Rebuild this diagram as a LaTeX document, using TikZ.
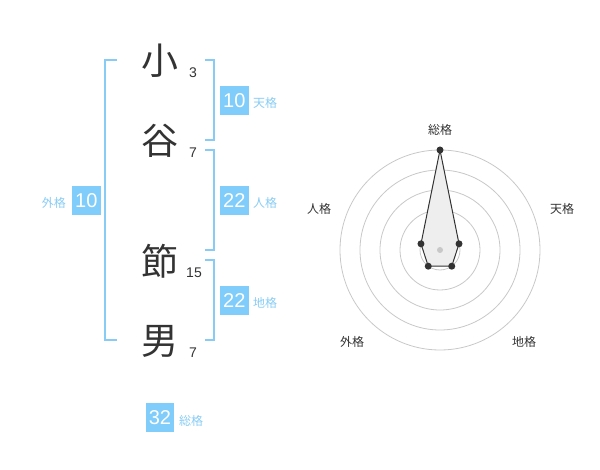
\documentclass[tikz,border=0pt]{standalone}
\usepackage{fontspec}
\usetikzlibrary{calc}
\setmainfont{Liberation Sans}
\newfontfamily\cjk{Noto Sans CJK JP}
\definecolor{bluebox}{HTML}{80CCFA}
\definecolor{bluetxt}{HTML}{88CCF4}
\definecolor{bracketc}{HTML}{88CCF6}
\definecolor{darkt}{HTML}{333333}
\definecolor{ringc}{HTML}{C8C8C8}
\definecolor{polyfill}{HTML}{EEEEEE}
\begin{document}
\begin{tikzpicture}[x=1pt,y=-1pt,
  kanji/.style={font=\cjk\fontsize{37}{37}\selectfont, text=darkt, inner sep=0pt},
  stroke/.style={font=\fontsize{14}{14}\selectfont, text=darkt, inner sep=0pt},
  numbox/.style={fill=bluebox, text=white, font=\fontsize{20}{20}\selectfont, minimum width=28.5pt, minimum height=28.5pt, inner sep=0pt},
  kaku/.style={font=\cjk\fontsize{12}{12}\selectfont, text=bluetxt, inner sep=0pt},
  axislbl/.style={font=\cjk\fontsize{12}{12}\selectfont, text=darkt, inner sep=0pt},
  brk/.style={draw=bracketc, line width=2pt},
  ring/.style={draw=ringc, line width=0.8pt},
  dot/.style={circle, fill=darkt, inner sep=0pt, minimum size=7pt},
  poly/.style={draw=darkt, fill=polyfill, line width=1pt, line join=round}
]
\useasboundingbox (0,0) rectangle (600,470);
% kanji
\node[kanji] (k1) at (160,61) {小};
\node[kanji] (k2) at (160,141) {谷};
\node[kanji] (k3) at (160,261) {節};
\node[kanji] (k4) at (160,341) {男};
% stroke numbers
\node[stroke] (s1) at (193,73) {3};
\node[stroke] (s2) at (193,153) {7};
\node[stroke] (s3) at (194,273) {15};
\node[stroke] (s4) at (193,353) {7};
% left bracket
\coordinate (lb1) at (117,60);
\coordinate (lb2) at (117,340);
\draw[brk] (lb1) -- (105,60) -- (105,340) -- (lb2);
% right brackets
\coordinate (r1a) at (205,60);
\coordinate (r1b) at (205,140);
\draw[brk] (r1a) -- (214,60) -- (214,140) -- (r1b);
\coordinate (r2a) at (205,150);
\coordinate (r2b) at (205,250);
\draw[brk] (r2a) -- (214,150) -- (214,250) -- (r2b);
\coordinate (r3a) at (205,260);
\coordinate (r3b) at (205,340);
\draw[brk] (r3a) -- (214,260) -- (214,340) -- (r3b);
% boxes
\node[numbox] (b1) at (234.3,100.3) {10};
\node[kaku, anchor=west] (l1) at (253,103) {天格};
\node[numbox] (b2) at (234.3,200.3) {22};
\node[kaku, anchor=west] (l2) at (253,203) {人格};
\node[numbox] (b3) at (234.3,300.3) {22};
\node[kaku, anchor=west] (l3) at (253,303) {地格};
\node[numbox] (b4) at (86.3,200.3) {10};
\node[kaku, anchor=east] (l4) at (66,203) {外格};
\node[numbox] (b5) at (160,417.5) {32};
\node[kaku, anchor=west] (l5) at (179,421) {総格};
% radar
\coordinate (c) at (440,250);
\foreach \r in {20,40,60,80,100} \draw[ring] (c) circle[radius=\r];
\coordinate (p1) at ($(c)+(-90:100)$);
\coordinate (p2) at ($(c)+(-18:20)$);
\coordinate (p3) at ($(c)+(54:20)$);
\coordinate (p4) at ($(c)+(126:20)$);
\coordinate (p5) at ($(c)+(198:20)$);
\draw[poly] (p1) -- (p2) -- (p3) -- (p4) -- (p5) -- cycle;
\node[circle, fill=ringc, inner sep=0pt, minimum size=6pt] (cd) at (c) {};
\foreach \i in {1,...,5} \node[dot] (d\i) at (p\i) {};
\node[axislbl] (a1) at (440,130) {総格};
\node[axislbl] (a2) at (562,208.5) {天格};
\node[axislbl] (a3) at (524,342) {地格};
\node[axislbl] (a4) at (352,342) {外格};
\node[axislbl] (a5) at (319,208.5) {人格};
\end{tikzpicture}
\end{document}
